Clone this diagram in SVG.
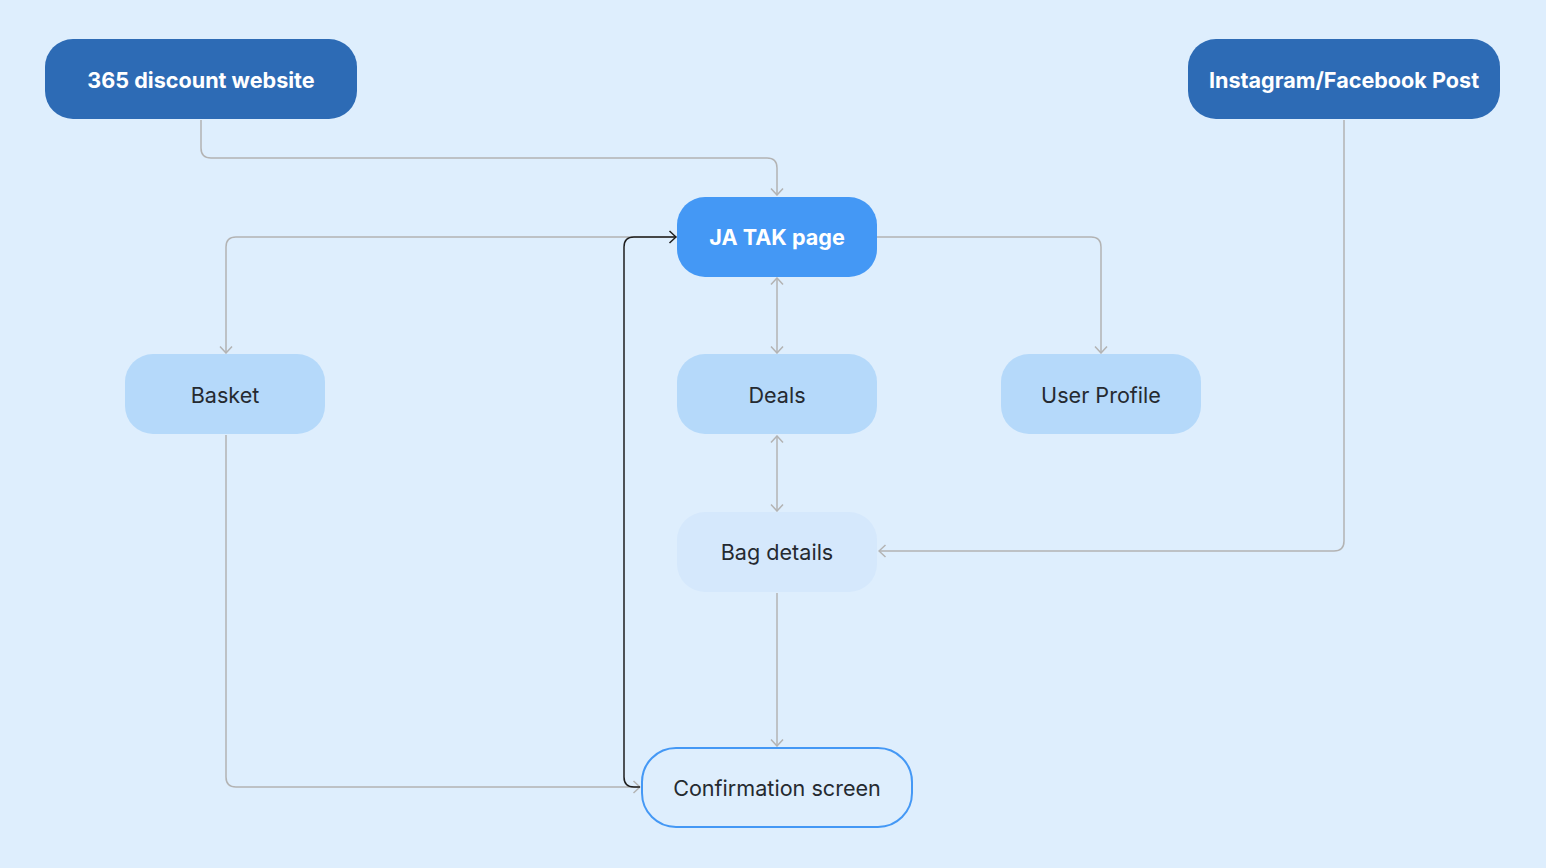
<svg xmlns="http://www.w3.org/2000/svg" width="1546" height="868" viewBox="0 0 1546 868">
<defs>
<marker id="ag" viewBox="0 0 14 14" refX="13" refY="7" markerWidth="14" markerHeight="14" markerUnits="userSpaceOnUse" orient="auto-start-reverse"><path d="M6.5,1 L13,7 L6.5,13" fill="none" stroke="#B3B3B3" stroke-width="1.5"/></marker>
<marker id="ab" viewBox="0 0 14 14" refX="13" refY="7" markerWidth="14" markerHeight="14" markerUnits="userSpaceOnUse" orient="auto-start-reverse"><path d="M6.5,1 L13,7 L6.5,13" fill="none" stroke="#1E1E1E" stroke-width="1.5"/></marker>
</defs>
<style>
.t{font-family:Inter,"Liberation Sans",sans-serif;font-size:21.6px;text-anchor:middle;dominant-baseline:central}
.w{fill:#FFFFFF;font-weight:700}
.d{fill:#252A30}
.c{fill:none;stroke:#B3B3B3;stroke-width:1.5}
</style>
<rect width="1546" height="868" fill="#DEEEFD"/>
<g id="connectors">
<path class="c" d="M201,120 V148 Q201,158 211,158 H767 Q777,158 777,168 V195" marker-end="url(#ag)"/>
<path class="c" d="M677,237 H236 Q226,237 226,247 V353" marker-end="url(#ag)"/>
<path class="c" d="M877,237 H1091 Q1101,237 1101,247 V353" marker-end="url(#ag)"/>
<path class="c" d="M777,278 V353" marker-start="url(#ag)" marker-end="url(#ag)"/>
<path class="c" d="M777,436 V511" marker-start="url(#ag)" marker-end="url(#ag)"/>
<path class="c" d="M1344,120 V541 Q1344,551 1334,551 H879" marker-end="url(#ag)"/>
<path class="c" d="M777,593 V746" marker-end="url(#ag)"/>
<path class="c" d="M226,435 V777 Q226,787 236,787 H640" marker-end="url(#ag)"/>
<path d="M640,787 H634 Q624,787 624,777 V247 Q624,237 634,237 H676" fill="none" stroke="#1E1E1E" stroke-width="1.5" marker-end="url(#ab)"/>
</g>
<g id="n365"><rect x="45" y="39" width="312" height="80" rx="28" fill="#2D6BB5"/><text class="t w" x="201" y="80">365 discount website</text></g>
<g id="ninsta"><rect x="1188" y="39" width="312" height="80" rx="28" fill="#2D6BB5"/><text class="t w" x="1344" y="80">Instagram/Facebook Post</text></g>
<g id="njatak"><rect x="677" y="197" width="200" height="80" rx="28" fill="#4498F5"/><text class="t w" x="777" y="237">JA TAK page</text></g>
<g id="nbasket"><rect x="125" y="354" width="200" height="80" rx="28" fill="#B5D9FA"/><text class="t d" x="225" y="395">Basket</text></g>
<g id="ndeals"><rect x="677" y="354" width="200" height="80" rx="28" fill="#B5D9FA"/><text class="t d" x="777" y="395">Deals</text></g>
<g id="nprofile"><rect x="1001" y="354" width="200" height="80" rx="28" fill="#B5D9FA"/><text class="t d" x="1101" y="395">User Profile</text></g>
<g id="nbag"><rect x="677" y="512" width="200" height="80" rx="28" fill="#D5E8FC"/><text class="t d" x="777" y="552">Bag details</text></g>
<g id="nconfirm"><rect x="642" y="748" width="270" height="79" rx="34" fill="none" stroke="#4498F5" stroke-width="2"/><text class="t d" x="777" y="788">Confirmation screen</text></g>
</svg>
